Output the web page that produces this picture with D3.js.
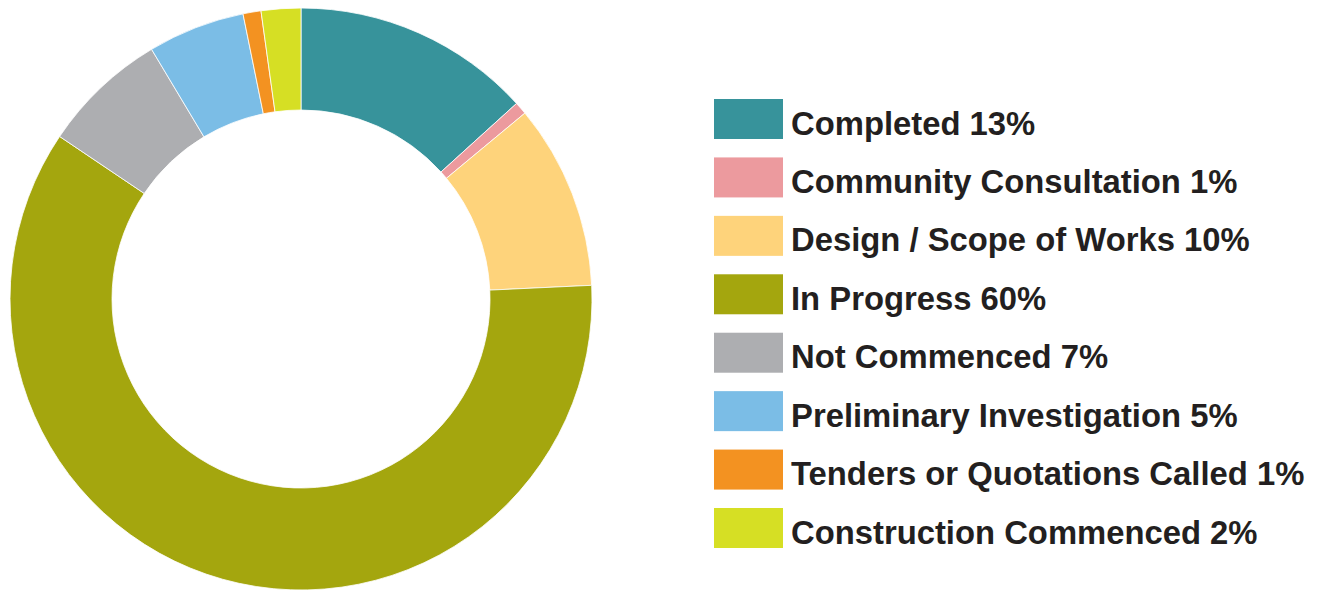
<!DOCTYPE html>
<html>
<head>
<meta charset="utf-8">
<script src="https://cdn.jsdelivr.net/npm/d3@7/dist/d3.min.js"></script>
<style>
  body { margin: 0; background: #fff; }
  #chart { width: 1318px; height: 590px; }
</style>
</head>
<body>
<div id="chart"></div>
<script>
// slice order goes clockwise from 12 o'clock
const categories = [
  "Completed",
  "Community Consultation",
  "Design / Scope of Works",
  "In Progress",
  "Not Commenced",
  "Preliminary Investigation",
  "Tenders or Quotations Called",
  "Construction Commenced"
];
const values = [13.3, 0.7, 10.3, 60.3, 7.0, 5.4, 1.0, 2.2];
const labels = ["13%", "1%", "10%", "60%", "7%", "5%", "1%", "2%"];
const colors = ["#37939b", "#ec9a9e", "#fed37b", "#a4a60e", "#adaeb1", "#7bbde6", "#f39221", "#d6df24"];

const width = 1318, height = 590;
const cx = 301, cy = 299;
const outerR = 291, innerR = 189;

let svg = d3.select("#chart").append("svg")
    .attr("width", width)
    .attr("height", height);

let pie = d3.pie().sort(null).value(function(d) { return d; });
let arc = d3.arc().innerRadius(innerR).outerRadius(outerR);
let color = d3.scaleOrdinal().domain(categories).range(colors);

svg.append("g")
    .attr("transform", "translate(" + cx + "," + cy + ")")
    .selectAll("path")
    .data(pie(values))
    .enter()
    .append("path")
    .attr("d", arc)
    .attr("fill", function(d, i) { return color(categories[i]); })
    .attr("stroke", "#fff")
    .attr("stroke-width", 0.8);

// legend
let rowY = d3.scaleLinear().domain([0, categories.length - 1]).range([99, 508]);

let legend = svg.append("g").attr("class", "legend");

let rows = legend.selectAll(".row")
    .data(categories)
    .enter()
    .append("g")
    .attr("class", "row")
    .attr("transform", function(d, i) { return "translate(714," + rowY(i) + ")"; });

rows.append("rect")
    .attr("width", 69)
    .attr("height", 40)
    .attr("fill", function(d) { return color(d); });

rows.append("text")
    .attr("x", 77)
    .attr("y", 35.5)
    .style("font-family", "'Liberation Sans', Arial, sans-serif")
    .style("font-weight", "bold")
    .style("font-size", "32.8px")
    .attr("fill", "#231f20")
    .text(function(d, i) { return d + " " + labels[i]; });
</script>
</body>
</html>
